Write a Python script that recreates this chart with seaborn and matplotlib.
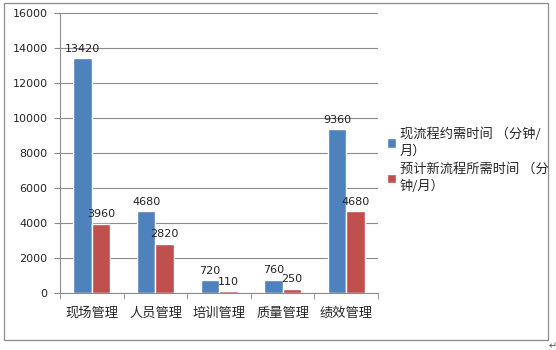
import matplotlib
matplotlib.use("Agg")
import matplotlib.pyplot as plt
import seaborn as sns
import pandas as pd
from matplotlib.patches import Rectangle
from matplotlib.ticker import FixedLocator

categories = ["现场管理", "人员管理", "培训管理", "质量管理", "绩效管理"]
current_minutes = [13420, 4680, 720, 760, 9360]
planned_minutes = [3960, 2820, 110, 250, 4680]
series_names = ["现流程约需时间 （分钟/\n月）", "预计新流程所需时间 （分\n钟/月）"]
y_ticks = [0, 2000, 4000, 6000, 8000, 10000, 12000, 14000, 16000]

sns.set_style("white")
plt.rcParams["font.family"] = ["Noto Sans CJK SC", "DejaVu Sans"]

df = pd.DataFrame({
    "category": categories * 2,
    "value": current_minutes + planned_minutes,
    "series": [series_names[0]] * 5 + [series_names[1]] * 5,
})

fig = plt.figure(figsize=(5.56, 3.5), dpi=100)
ax = fig.add_axes([0.108, 0.163, 0.572, 0.8])

palette = ["#4F81BD", "#C0504D"]
sns.barplot(data=df, x="category", y="value", hue="series", palette=palette,
            width=0.58, ax=ax, saturation=1, legend=True)

ax.set_ylim(0, 16000)
ax.set_xlim(-0.5, 4.5)
ax.set_yticks(y_ticks)
ax.set_yticklabels([str(t) for t in y_ticks], fontsize=8, family="DejaVu Sans")
ax.yaxis.grid(True, color="#8c8c8c", linewidth=0.8)
ax.set_axisbelow(True)
ax.set_xlabel("")
ax.set_ylabel("")
ax.tick_params(axis="x", labelsize=9.5, pad=10, length=0)
ax.tick_params(axis="y", length=4, color="#8c8c8c", direction="out", left=True, pad=5)
ax.xaxis.set_minor_locator(FixedLocator([-0.5, 0.5, 1.5, 2.5, 3.5, 4.5]))
ax.tick_params(axis="x", which="minor", length=4, color="#8c8c8c", direction="out", bottom=True)

for side in ["top", "right"]:
    ax.spines[side].set_visible(False)
for side in ["left", "bottom"]:
    ax.spines[side].set_color("#8c8c8c")
    ax.spines[side].set_linewidth(0.8)

for container in ax.containers:
    ax.bar_label(container, labels=[f"{int(v)}" for v in container.datavalues],
                 fontsize=8, padding=3, color="#222222", family="DejaVu Sans")

handles, labels = ax.get_legend_handles_labels()
leg = ax.legend(handles, labels, loc="upper left", bbox_to_anchor=(1.01, 0.61),
                frameon=False, fontsize=9.5, handlelength=0.7, handleheight=0.7,
                handletextpad=0.3, labelspacing=0.35, borderaxespad=0)
for t in leg.get_texts():
    t.set_linespacing(1.4)

fig.patches.append(Rectangle((4 / 556, 1 - 340 / 350), 544 / 556, 337 / 350,
                             transform=fig.transFigure, fill=False,
                             edgecolor="#8c8c8c", linewidth=0.9))
fig.text(549 / 556, 1 - 346 / 350, "↵", fontsize=7, color="#555555",
         family="DejaVu Sans", va="center", ha="left")

fig.savefig("out.png", dpi=100)
